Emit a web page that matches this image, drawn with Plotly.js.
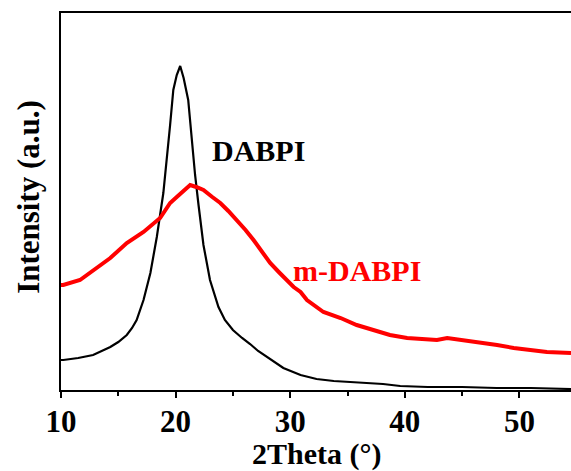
<!DOCTYPE html>
<html><head><meta charset="utf-8">
<script src="https://cdn.plot.ly/plotly-3.0.1.min.js"></script>
<style>html,body{margin:0;padding:0;background:#fff}</style>
</head><body><div id="chart" style="width:571px;height:471px"></div>
<script>
const dabpiX = [10,10.2,11.5,12.8,14.3,15.0,15.74,16.2,16.6,17.2,17.8,18.36,18.93,19.23,19.52,19.8,20.1,20.4,20.7,21.1,21.4,21.7,22.0,22.43,23.0,23.74,24.3,25.0,25.8,26.5,27.2,27.96,28.7,29.4,30.9,32.3,33.8,35.2,36.7,38.1,39.6,42,45,48,51,54.5];
const dabpiY = [30,30,32,35,43,48,55,62,70,90,117,153,197,230,265,300,315,324,312,290,250,215,185,145,110,83,70,60,52,46,39,33,27,22,15,11,9,8,7,6,4,3,3,2,2,1];
const mX = [10,10.2,11.66,12.8,14.3,15.74,17.2,18.65,19.52,20.1,20.8,21.27,21.8,22.43,23.2,23.9,24.6,25.35,26.1,26.8,27.5,28.25,29.0,29.7,30.3,30.9,31.46,32.9,34.4,35.8,37.3,38.7,40.2,41.9,42.8,43.7,45.1,46.6,48.05,49.5,51.0,52.4,54.5];
const mY = [105,105,110,120,132,147,158,172,187,193,200,205,203,200,193,187,179,170,160,150,139,127,118,110,103,98,90,78,72,65,60,55,52,51,50,52,50,47,45,42,40,38,37];
const xTicks = [10,20,30,40,50];
const labels = ["DABPI","m-DABPI"];
const axisTitles = ["2Theta (°)","Intensity (a.u.)"];

const font = "Liberation Serif";
const traces = [
  {x: dabpiX, y: dabpiY, type:'scatter', mode:'lines', line:{color:'#000', width:2.2}, hoverinfo:'skip'},
  {x: mX, y: mY, type:'scatter', mode:'lines', line:{color:'#ff0000', width:4}, hoverinfo:'skip'}
];
const layout = {
  width:571, height:471,
  margin:{l:61, r:0, t:13, b:81},
  paper_bgcolor:'#fff', plot_bgcolor:'#fff',
  showlegend:false,
  xaxis:{range:[10,54.5], tickvals:xTicks, ticktext:xTicks.map(String), ticks:'outside', ticklen:6, tickwidth:2, tickcolor:'#000',
    minor:{dtick:5, tick0:10, ticks:'outside', ticklen:4, tickwidth:2, tickcolor:'#000'},
    showline:true, linewidth:2, linecolor:'#000', mirror:true, showgrid:false, zeroline:false,
    ticklabelstandoff:-3,
    tickfont:{family:font, size:31, color:'#000', weight:'bold'}},
  yaxis:{range:[0,377], showticklabels:false, ticks:'', showline:true, linewidth:2, linecolor:'#000', showgrid:false, zeroline:false},
  annotations:[
    {x:27.2, y:240, text:'<b>'+labels[0]+'</b>', showarrow:false, font:{family:font, size:30, color:'#000'}},
    {x:35.85, y:120, text:'<b>'+labels[1]+'</b>', showarrow:false, font:{family:font, size:30, color:'#ff0000'}},
    {xref:'paper', yref:'paper', x:0.5, y:-0.171, xanchor:'center', yanchor:'middle', text:'<b>'+axisTitles[0]+'</b>', showarrow:false, font:{family:font, size:30, color:'#000'}},
    {xref:'paper', yref:'paper', x:-0.063, y:0.512, xanchor:'center', yanchor:'middle', textangle:-90, text:'<b>'+axisTitles[1]+'</b>', showarrow:false, font:{family:font, size:31, color:'#000'}}
  ]
};
Plotly.newPlot('chart', traces, layout, {staticPlot:true, displayModeBar:false});
</script></body></html>
